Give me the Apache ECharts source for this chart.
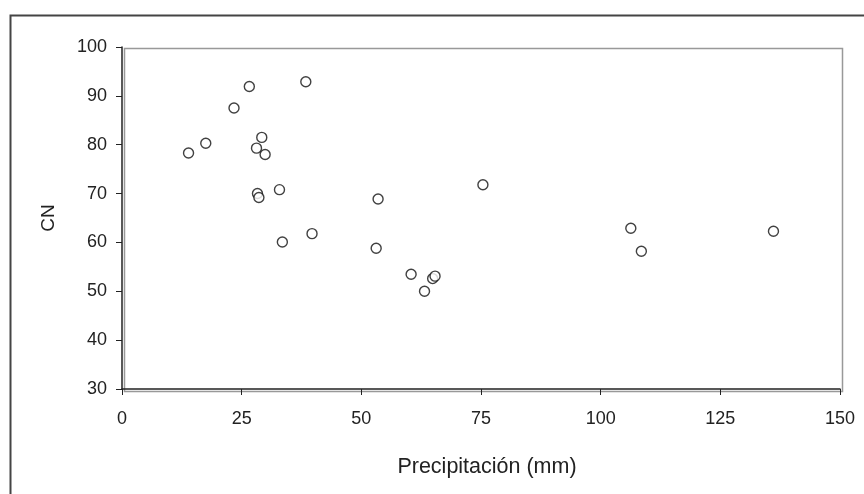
<!DOCTYPE html>
<html>
<head>
<meta charset="utf-8">
<script src="https://cdn.jsdelivr.net/npm/echarts@6/dist/echarts.min.js"></script>
<style>html,body{margin:0;padding:0;background:#fff;}#c{width:864px;height:494px;}</style>
</head>
<body>
<div id="c"></div>
<script>
var precip = [13.9, 17.5, 23.4, 26.6, 38.4, 29.2, 28.1, 29.9, 28.3, 28.6, 32.9, 33.5, 39.7, 53.5, 53.1, 60.4, 63.2, 64.9, 65.4, 75.4, 106.3, 108.5, 136.1];
var cn     = [78.3, 80.3, 87.5, 91.9, 92.9, 81.5, 79.3, 78.0, 70.0, 69.2, 70.8, 60.1, 61.8, 68.9, 58.8, 53.5, 50.0, 52.6, 53.1, 71.8, 62.9, 58.2, 62.3];
var xTitle = 'Precipitación (mm)';
var yTitle = 'CN';

var data = precip.map(function (p, i) { return [p, cn[i]]; });
var chart = echarts.init(document.getElementById('c'));
var font = 'Liberation Sans, Arial, sans-serif';
chart.setOption({
  animation: false,
  backgroundColor: '#fff',
  graphic: [{
    type: 'rect', left: 8, top: 13, z: -1,
    shape: { width: 900, height: 520 },
    style: { fill: 'none', stroke: '#444', lineWidth: 2 }
  }, {
    type: 'rect', left: 122, top: 46, z: -1,
    shape: { width: 718, height: 343 },
    style: { fill: 'none', stroke: '#999', lineWidth: 1.5 }
  }],
  grid: { left: 122, right: 24, top: 47, bottom: 105, containLabel: false },
  xAxis: {
    type: 'value', min: 0, max: 150, interval: 25,
    name: xTitle, nameLocation: 'middle', nameGap: 67,
    nameTextStyle: { fontFamily: font, fontSize: 21.5, color: '#222', padding: [0, 0, 0, 12] },
    axisLine: { lineStyle: { color: '#222', width: 1.5 } },
    axisTick: { length: 6, lineStyle: { color: '#222' } },
    axisLabel: { fontFamily: font, fontSize: 18, color: '#222', margin: 21 },
    splitLine: { show: false }
  },
  yAxis: {
    type: 'value', min: 30, max: 100, interval: 10,
    name: yTitle, nameLocation: 'middle', nameGap: 64, nameRotate: 90,
    nameTextStyle: { fontFamily: font, fontSize: 19, color: '#222' },
    axisLine: { show: true, lineStyle: { color: '#222', width: 1.5 } },
    axisTick: { show: true, length: 6, lineStyle: { color: '#222' } },
    axisLabel: { fontFamily: font, fontSize: 18, color: '#222', margin: 15 },
    splitLine: { show: false }
  },
  series: [{
    type: 'scatter',
    data: data,
    symbol: 'circle',
    symbolSize: 10,
    itemStyle: { color: '#fff', borderColor: '#111', borderWidth: 1.4 }
  }]
});
</script>
</body>
</html>
